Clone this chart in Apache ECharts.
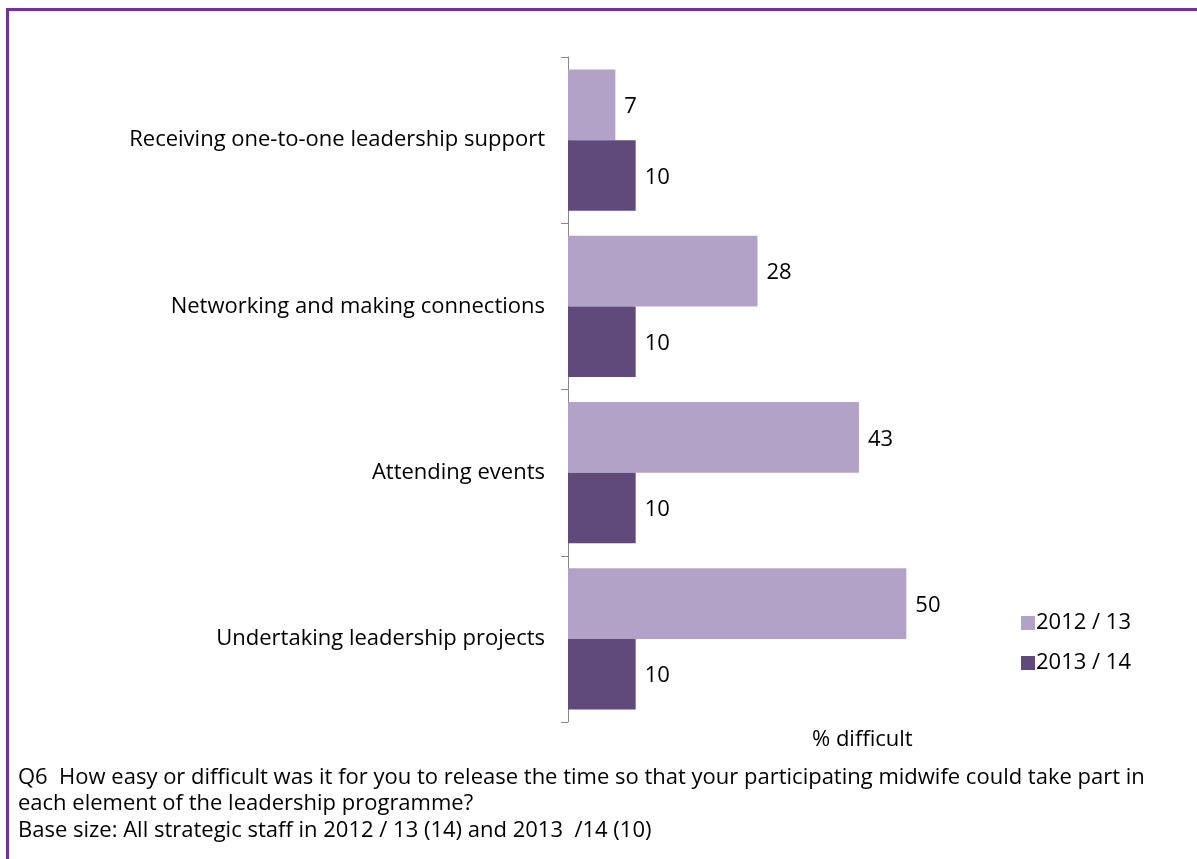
<!DOCTYPE html>
<html>
<head>
<meta charset="utf-8">
<style>
  html, body { margin: 0; padding: 0; background: #ffffff; }
  #chart { width: 1197px; height: 859px; }
</style>
<script src="https://cdn.jsdelivr.net/npm/echarts@6/dist/echarts.min.js"></script>
</head>
<body>
<div id="chart"></div>
<script>
// Leadership programme elements, listed top to bottom
const categories = [
  'Receiving one-to-one leadership support',
  'Networking and making connections',
  'Attending events',
  'Undertaking leadership projects'
];
// % of strategic staff finding it difficult to release time
const values2012 = [7, 28, 43, 50];
const values2013 = [10, 10, 10, 10];
const seriesNames = ['2012 / 13', '2013 / 14'];
const axisTitle = '% difficult';
const captionLines = [
  'Q6  How easy or difficult was it for you to release the time so that your participating midwife could take part in',
  'each element of the leadership programme?',
  'Base size: All strategic staff in 2012 / 13 (14) and 2013  /14 (10)'
];

const FONT = 'Open Sans';
const FS = 22;
const chart = echarts.init(document.getElementById('chart'));

const labelStyle = {
  show: true,
  position: 'right',
  distance: 9,
  offset: [0, 2],
  color: '#000',
  fontFamily: FONT,
  fontSize: FS
};

chart.setOption({
  animation: false,
  textStyle: { fontFamily: FONT },
  grid: { left: 568, right: 223, top: 57, bottom: 137, containLabel: false },
  xAxis: {
    type: 'value',
    min: 0,
    max: 60,
    axisLine: { show: false },
    axisTick: { show: false },
    axisLabel: { show: false },
    splitLine: { show: false }
  },
  yAxis: {
    type: 'category',
    data: categories,
    inverse: true,
    axisLine: { show: true, lineStyle: { color: '#868686', width: 1 } },
    axisTick: { show: true, inside: false, length: 7, lineStyle: { color: '#868686' } },
    axisLabel: { color: '#000', fontFamily: FONT, fontSize: FS, margin: 23, padding: [4, 0, 0, 0] }
  },
  legend: {
    orient: 'vertical',
    left: 1016,
    top: 607,
    itemWidth: 14,
    itemHeight: 14,
    itemGap: 18,
    icon: 'rect',
    textStyle: { color: '#000', fontFamily: FONT, fontSize: FS, padding: [0, 0, 0, -4] },
    data: seriesNames
  },
  series: [
    {
      name: seriesNames[0],
      type: 'bar',
      data: values2012,
      itemStyle: { color: '#b3a2c7' },
      barGap: '0%',
      barCategoryGap: '15%',
      label: labelStyle
    },
    {
      name: seriesNames[1],
      type: 'bar',
      data: values2013,
      itemStyle: { color: '#604a7b' },
      barGap: '0%',
      barCategoryGap: '15%',
      label: labelStyle
    }
  ],
  graphic: [
    // frame: top and left rules
    { type: 'line', shape: { x1: 6, y1: 9.5, x2: 1197, y2: 9.5 }, style: { stroke: '#7030a0', lineWidth: 3 } },
    { type: 'line', shape: { x1: 7.5, y1: 8, x2: 7.5, y2: 859 }, style: { stroke: '#7030a0', lineWidth: 3 } },
    // axis title
    { type: 'text', left: 812, top: 729, style: { text: axisTitle, fill: '#000', font: FS + 'px ' + FONT } },
    // caption below the chart
    { type: 'text', left: 18, top: 764, style: { text: captionLines.join('\n'), fill: '#000', font: FS + 'px ' + FONT, lineHeight: 26.5 } }
  ]
});
</script>
</body>
</html>
